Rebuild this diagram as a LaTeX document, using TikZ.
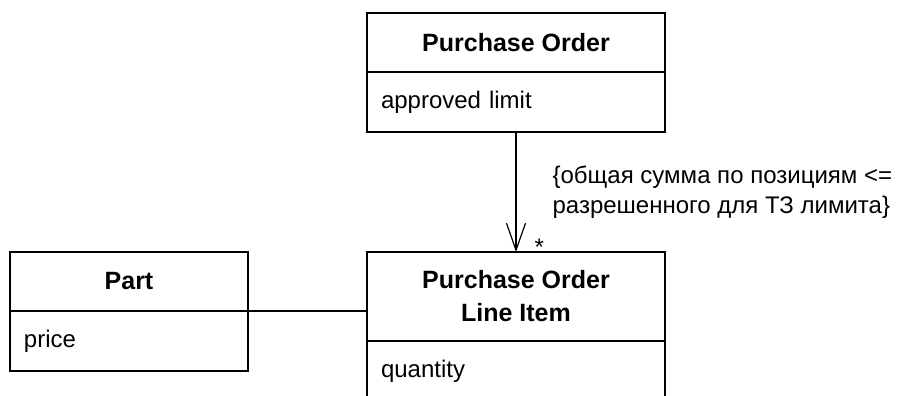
\documentclass[tikz,border=0pt]{standalone}
\usepackage{fontspec}
\setmainfont{Liberation Sans}
\usetikzlibrary{positioning,arrows.meta}

\begin{document}
\begin{tikzpicture}[-{Straight Barb[length=13.5pt,width=9.5pt]}, x=0.5pt, y=-0.5pt,
semithick, font=\fontsize{12}{15}\selectfont,
classhead/.style={rectangle, draw, font=\fontsize{12.5}{16.5}\selectfont\bfseries,
    align=center, minimum width=149pt, minimum height=29.5pt, outer sep=0pt},
classattr/.style={rectangle, draw, align=left, text width=135pt,
    inner xsep=7pt, minimum height=30pt, outer sep=0pt}
]
\useasboundingbox (0,0) rectangle (901,396);
\node[classhead, anchor=north west] (PO) at (367,13) {Purchase Order};
\node[classattr] (POattr) [below = 0pt of PO] {approved limit};
\node[classhead, minimum height=44.5pt] (LI) [below = 60pt of POattr] {Purchase Order\\Line Item};
\node[classattr] (LIattr) [below = 0pt of LI] {quantity};
\node[classhead, minimum width=119pt] (Part) [left = 59.5pt of LI.north west, anchor=north east] {Part};
\node[classattr, text width=105pt] (Partattr) [below = 0pt of Part] {price};
\draw (POattr) -- (LI)
    node[midway, right = 18pt, inner sep=0pt, align=left] (cons)
        {\{общая сумма по позициям <=\\разрешенного для ТЗ лимита\}}
    node[pos=1, anchor=base west, inner sep=0pt, xshift=9pt, yshift=-1.5pt] (mult) {*};
\draw[-] (Part.south east) -- (Part.south east -| LI.west);
\end{tikzpicture}
\end{document}
